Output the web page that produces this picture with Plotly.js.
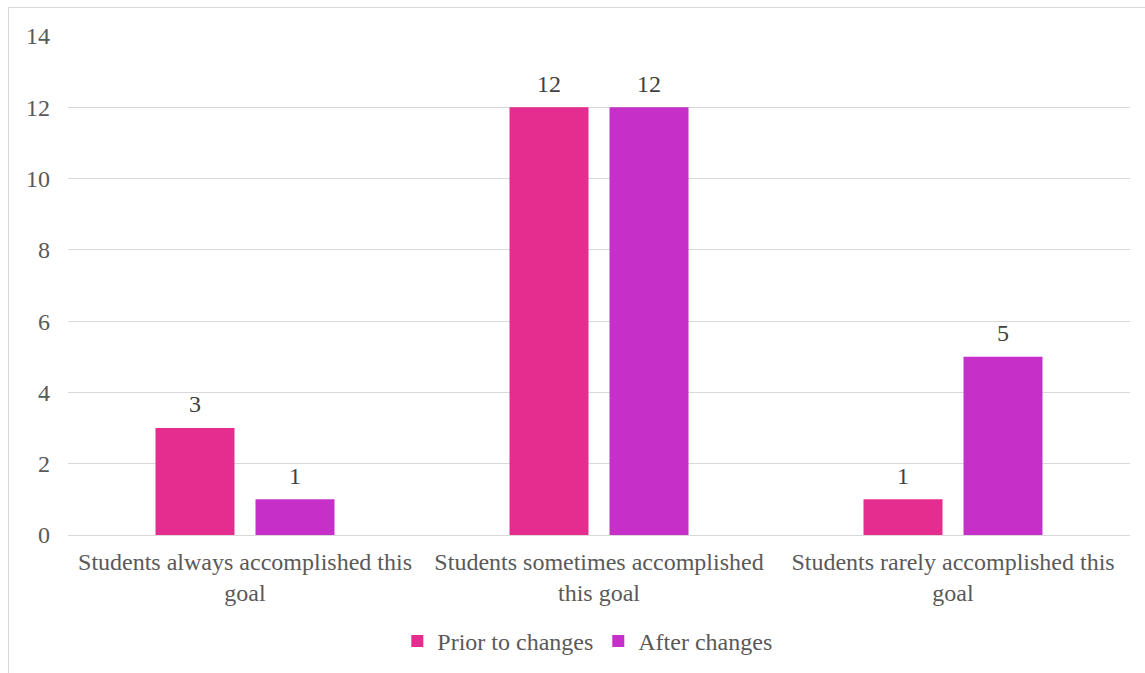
<!DOCTYPE html>
<html>
<head>
<meta charset="utf-8">
<script src="https://cdn.plot.ly/plotly-3.0.1.min.js"></script>
<style>
html,body{margin:0;padding:0;background:#fff;overflow:hidden;}
#chart{position:absolute;left:0;top:0;width:1145px;height:673px;}
#frame{position:absolute;left:8px;top:7px;width:1145px;height:700px;border:1px solid #d9d9d9;pointer-events:none;}
</style>
</head>
<body>
<div id="chart"></div>
<div id="frame"></div>
<script>
const categories = [
  "Students always accomplished this<br>goal",
  "Students sometimes accomplished<br>this goal",
  "Students rarely accomplished this<br>goal"
];
const seriesNames = ["Prior to changes", "After changes"];
const priorValues = [3, 12, 1];
const afterValues = [1, 12, 5];
const yTicks = [0, 2, 4, 6, 8, 10, 12, 14];

const fontFam = "Times New Roman, Liberation Serif, DejaVu Serif, serif";
const colors = ['#e42d8e', '#c630c9'];
const gap = 0.435;
const fs = 24;

const traces = [
  {type:'bar', name:seriesNames[0], x:categories, y:priorValues, offsetgroup:'a',
   marker:{color:colors[0]}},
  {type:'bar', name:seriesNames[1], x:categories, y:afterValues, offsetgroup:'b',
   marker:{color:colors[1]}},
  {type:'scatter', mode:'markers+text', showlegend:false, x:categories, y:priorValues, offsetgroup:'a',
   text:priorValues.map(String), textposition:'top center',
   marker:{size:14, color:'rgba(0,0,0,0)'},
   textfont:{family:fontFam, size:fs, color:'#404040'}, cliponaxis:false},
  {type:'scatter', mode:'markers+text', showlegend:false, x:categories, y:afterValues, offsetgroup:'b',
   text:afterValues.map(String), textposition:'top center',
   marker:{size:14, color:'rgba(0,0,0,0)'},
   textfont:{family:fontFam, size:fs, color:'#404040'}, cliponaxis:false}
];

const layout = {
  width:1145, height:673,
  margin:{l:68, r:15, t:36, b:138},
  paper_bgcolor:'#ffffff', plot_bgcolor:'#ffffff',
  font:{family:fontFam, size:fs, color:'#595959'},
  barmode:'group', bargap:gap, bargroupgap:0.21,
  scattermode:'group', scattergap:gap,
  showlegend:true,
  legend:{orientation:'h', x:0.489, xanchor:'center', yref:'container', y:0.047, yanchor:'middle',
          font:{family:fontFam, size:fs, color:'#595959'}, itemwidth:30, traceorder:'normal'},
  xaxis:{type:'category', showgrid:false, showline:true, linecolor:'#d9d9d9', linewidth:1,
         ticks:'', ticklabelstandoff:5, tickfont:{family:fontFam, size:fs, color:'#595959'}, automargin:false},
  yaxis:{range:[0,14], tickvals:yTicks, showgrid:true, gridcolor:'#d9d9d9', gridwidth:1,
         zeroline:false, showline:false, ticks:'', ticklabelstandoff:17,
         tickfont:{family:fontFam, size:fs, color:'#595959'}, automargin:false}
};

Plotly.newPlot('chart', traces, layout, {displayModeBar:false, staticPlot:true});
</script>
</body>
</html>
